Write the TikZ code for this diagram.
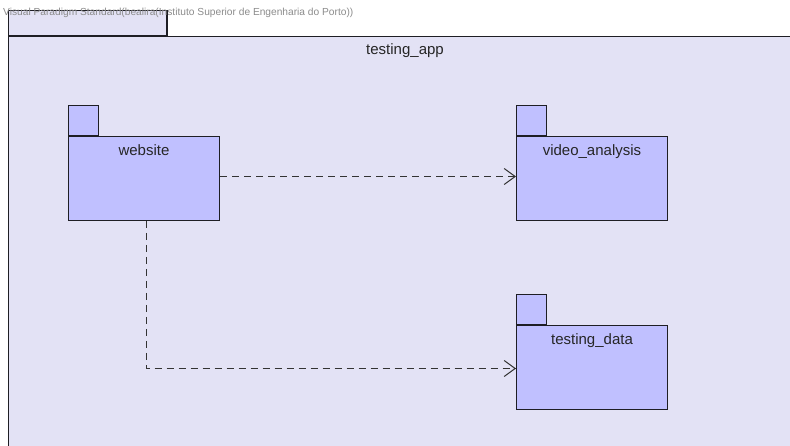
\documentclass[tikz,border=0pt]{standalone}
\usepackage{fontspec}
\setmainfont{Liberation Sans}
\usetikzlibrary{arrows.meta, positioning}

\definecolor{frameFill}{RGB}{227,226,245}
\definecolor{pkgFill}{RGB}{192,192,255}
\definecolor{pkgLine}{RGB}{30,30,36}

\begin{document}
\begin{tikzpicture}[
    x=1pt, y=-1pt,
    font=\fontsize{15}{17}\selectfont,
    frame/.style={draw=pkgLine, line width=1.2pt, fill=frameFill, inner sep=0pt},
    pkgbody/.style={draw=pkgLine, line width=1pt, fill=pkgFill, minimum width=151pt, minimum height=84pt, anchor=north west, inner sep=0pt},
    pkgtab/.style={draw=pkgLine, line width=1pt, fill=pkgFill, minimum width=30pt, minimum height=30pt, anchor=south west, inner sep=0pt},
    pkgname/.style={anchor=north, inner sep=0pt, text=black!85},
    dep/.style={draw=black!80, line width=1pt, dash pattern=on 7pt off 5pt, -{Straight Barb[length=11pt, width=16pt]}},
]
\useasboundingbox (0,0) rectangle (790,446);
\fill[white] (0,0) rectangle (790,446);

% enclosing package
\node[frame, minimum width=158pt, minimum height=25pt, anchor=south west] (appTab) at (8,36) {};
\node[anchor=west, inner sep=0pt, text=black!45, font=\fontsize{10.2}{12}\selectfont] (vpMark) at (3,13) {Visual Paradigm Standard(bealira(Instituto Superior de Engenharia do Porto))};
\draw[pkgLine, line width=1.2pt] (appTab.north east) -- (appTab.south east);
\node[frame, minimum width=800pt, minimum height=420pt, anchor=north west] (app) at (8,36) {};
\node[pkgname] (appName) at (405,43) {testing\_app};

% inner packages
\node[pkgbody] (website) at (68,136) {};
\node[pkgtab] (websiteTab) at (website.north west) {};
\node[pkgname] (websiteName) at ([yshift=-8pt]website.north) {website};

\node[pkgbody] (video) at (516,136) {};
\node[pkgtab] (videoTab) at (video.north west) {};
\node[pkgname] (videoName) at ([yshift=-8pt]video.north) {video\_analysis};

\node[pkgbody] (data) at (516,325) {};
\node[pkgtab] (dataTab) at (data.north west) {};
\node[pkgname] (dataName) at ([yshift=-8pt]data.north) {testing\_data};

% dependencies
\draw[dep] ([yshift=2pt]website.east) -- ([yshift=2pt]video.west);
\draw[dep] ([xshift=2pt]website.south) |- ([yshift=-1pt]data.west);
\end{tikzpicture}
\end{document}
